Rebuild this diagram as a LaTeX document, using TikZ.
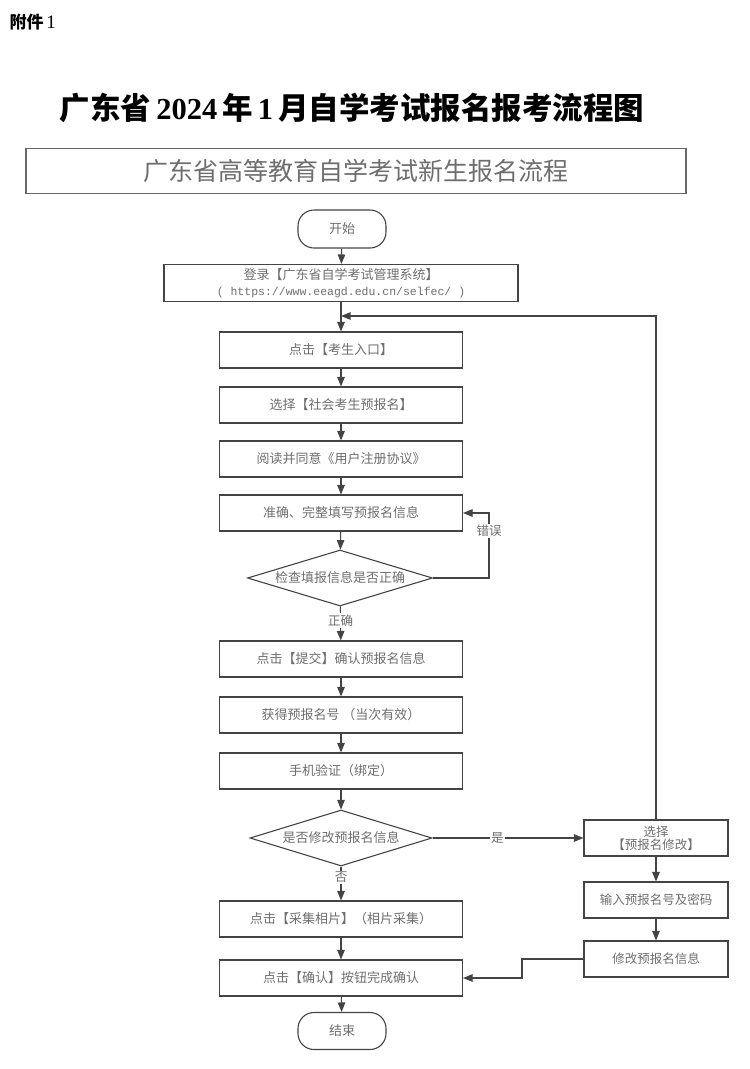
\documentclass[tikz,border=0pt]{standalone}
\usepackage{fontspec}
\setmainfont{Liberation Serif}
\newfontfamily\cjk{Noto Sans CJK SC}
\newfontfamily\urlfont{Liberation Mono}
\usetikzlibrary{arrows.meta,shapes.geometric}
\definecolor{linec}{HTML}{444444}
\definecolor{textc}{HTML}{6E6E6E}
\begin{document}
\begin{tikzpicture}[x=1pt,y=-1pt,
  box/.style={draw=linec, line width=1.1pt, minimum width=243, minimum height=36, inner sep=0pt,
    font=\cjk\fontsize{13}{16}\selectfont, text=textc, align=center},
  rbox/.style={box, minimum width=144, font=\cjk\fontsize{12.5}{15}\selectfont},
  term/.style={box, minimum width=88, minimum height=38, rounded corners=16pt},
  dia/.style={draw=linec, line width=1.1pt, diamond, inner sep=0pt, minimum width=185, minimum height=56},
  dlab/.style={font=\cjk\fontsize{13}{16}\selectfont, text=textc},
  conn/.style={draw=linec, line width=1.1pt, -{Triangle[length=9.5pt,width=7.5pt]}},
  plain/.style={draw=linec, line width=1.1pt},
  elab/.style={font=\cjk\fontsize{12.5}{15}\selectfont, text=textc, fill=white, inner sep=1.5pt}
]
\useasboundingbox (0,0) rectangle (750,1069);

\node[anchor=west, font=\cjk\bfseries\fontsize{17}{20}\selectfont] (att) at (6,22) {附件\,{\rmfamily\mdseries\fontsize{19}{20}\selectfont 1}};

\node[font=\fontsize{30.5}{34}\selectfont\bfseries] (title) at (352,108)
  {{\cjk 广东省}\,2024\,{\cjk 年}\,1\,{\cjk 月自学考试报名报考流程图}};

\node[draw=linec!80, line width=1.1pt, minimum width=660, minimum height=45, inner sep=0pt,
  font=\cjk\fontsize{25}{28}\selectfont, text=textc] (hdr) at (356,171) {广东省高等教育自学考试新生报名流程};

\node[term] (start) at (342,229) {开始};
\node[box, minimum width=354, minimum height=37] (login) at (341,283)
  {登录【广东省自学考试管理系统】\\[0pt]{\urlfont\fontsize{11.5}{14}\selectfont ( https://www.eeagd.edu.cn/selfec/ )}};
\coordinate (merge) at (341,316);
\node[box] (b1) at (341,350) {点击【考生入口】};
\node[box] (b2) at (341,405) {选择【社会考生预报名】};
\node[box] (b3) at (341,459) {阅读并同意《用户注册协议》};
\node[box] (b4) at (341,513) {准确、完整填写预报名信息};
\node[dia, label={[dlab]center:检查填报信息是否正确}] (d1) at (340,578) {};
\node[box] (b5) at (341,659) {点击【提交】确认预报名信息};
\node[box] (b6) at (341,715) {获得预报名号 （当次有效）};
\node[box] (b7) at (341,771) {手机验证（绑定）};
\node[dia, minimum width=182, label={[dlab]center:是否修改预报名信息}] (d2) at (341,838) {};
\node[box] (b8) at (341,919) {点击【采集相片】（相片采集）};
\node[box] (b9) at (341,978) {点击【确认】按钮完成确认};
\node[term, minimum height=37] (end) at (342,1031) {结束};

\node[rbox] (r1) at (656,838) {选择\\[-2pt]【预报名修改】};
\node[rbox] (r2) at (656,900) {输入预报名号及密码};
\node[rbox] (r3) at (656,959) {修改预报名信息};

\draw[conn] (start) -- (login);
\draw[plain] (login) -- (merge);
\draw[conn] (merge) -- (b1);
\draw[conn] (b1) -- (b2);
\draw[conn] (b2) -- (b3);
\draw[conn] (b3) -- (b4);
\draw[conn] (b4) -- (d1);
\draw[conn] (d1.east) -- (489,578) -- (489,513) -- (b4.east);
\node[elab] (err) at (489,531) {错误};
\draw[conn] (d1) -- (b5) node[elab, pos=0.42] (ok) {正确};
\draw[conn] (b5) -- (b6);
\draw[conn] (b6) -- (b7);
\draw[conn] (b7) -- (d2);
\draw[conn] (d2) -- (r1) node[elab, pos=0.43] (yes) {是};
\draw[conn] (d2) -- (b8) node[elab, pos=0.32] (no) {否};
\draw[conn] (b8) -- (b9);
\draw[conn] (b9) -- (end);
\draw[conn] (r1) -- (r2);
\draw[conn] (r2) -- (r3);
\draw[conn] (r3.west) -- (522,959) -- (522,978) -- (b9.east);
\draw[conn] (r1.north) -- (656,316) -- (merge);
\end{tikzpicture}
\end{document}
